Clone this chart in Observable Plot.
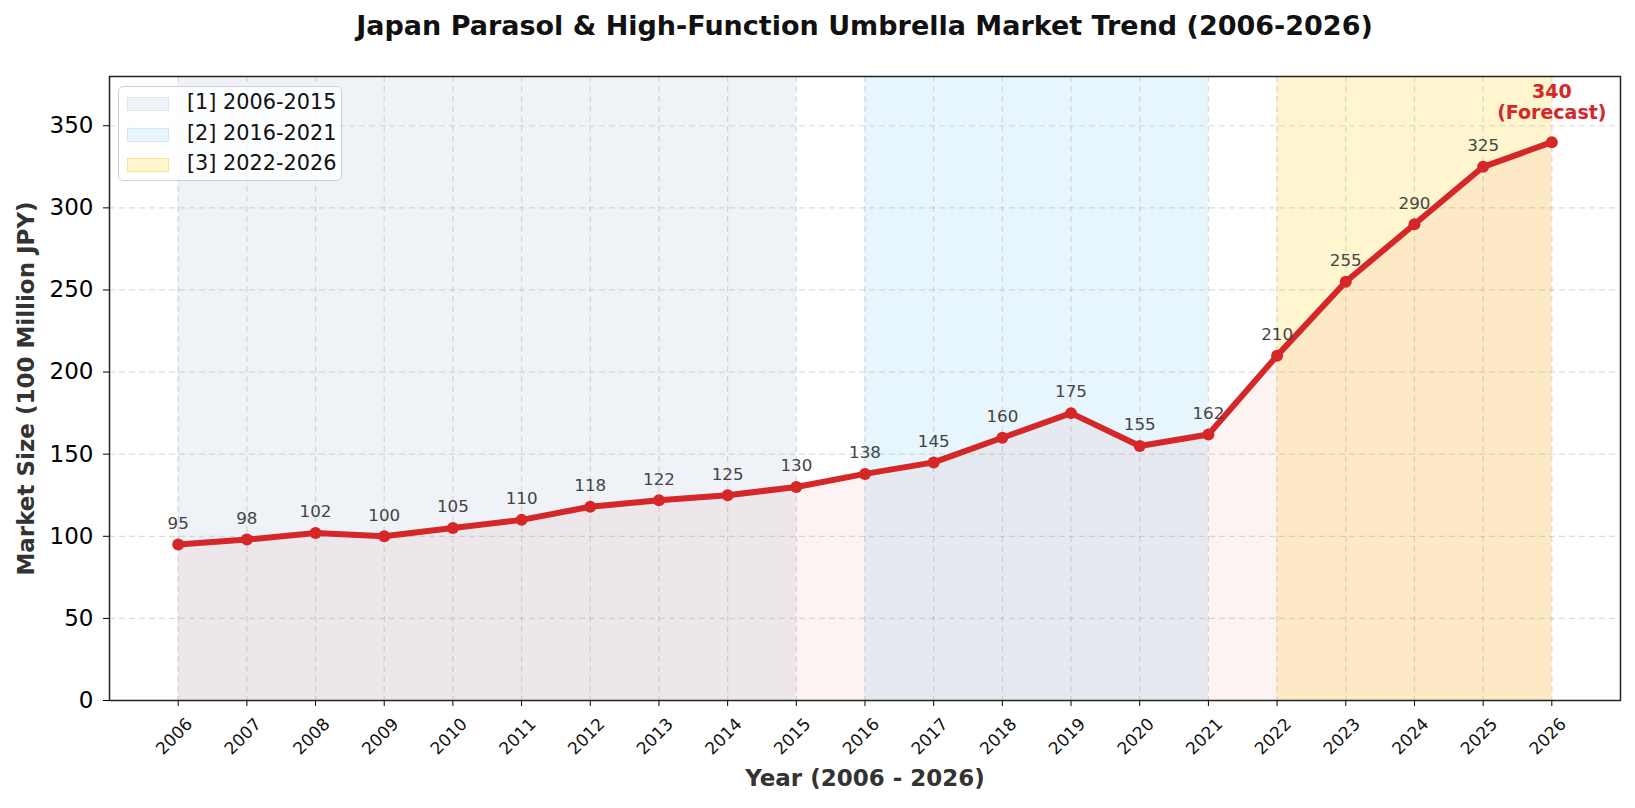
<!DOCTYPE html>
<html>
<head>
<meta charset="utf-8">
<script src="https://cdn.jsdelivr.net/npm/d3@7"></script>
<script src="https://cdn.jsdelivr.net/npm/@observablehq/plot@0.6"></script>
<style>
  body { margin: 0; background: #fff; font-family: "DejaVu Sans", sans-serif; }
  #wrap { position: relative; width: 1635px; height: 808px; overflow: hidden; }
  #title { position: absolute; top: 0; left: 109px; width: 1511px; text-align: center;
           font-weight: bold; font-size: 27px; line-height: 52px; color: #111; white-space: nowrap; }
  #chart { position: absolute; top: 52px; left: 0; }
  #legend { position: absolute; left: 118px; top: 86px; width: 224px; height: 95px;
            border: 1px solid #d0d0d0; border-radius: 5px; background: rgba(255,255,255,0.8);
            box-sizing: border-box; }
  .row { position: absolute; left: 0; height: 30px; width: 100%; }
  .sw { position: absolute; left: 8px; width: 42px; height: 14px; box-sizing: border-box; }
  .lt { position: absolute; left: 68px; font-size: 20.8px; color: #111; white-space: nowrap; }
</style>
</head>
<body>
<div id="wrap">
  <div id="title"></div>
  <div id="chart"></div>
  <div id="legend"></div>
</div>
<script>
// ---- data ----
const years = [2006, 2007, 2008, 2009, 2010, 2011, 2012, 2013, 2014, 2015, 2016,
               2017, 2018, 2019, 2020, 2021, 2022, 2023, 2024, 2025, 2026];
const marketSize = [95, 98, 102, 100, 105, 110, 118, 122, 125, 130, 138,
                    145, 160, 175, 155, 162, 210, 255, 290, 325, 340];
const periodLabels = ["[1] 2006-2015", "[2] 2016-2021", "[3] 2022-2026"];
const periodStart = [2006, 2016, 2022];
const periodEnd = [2015, 2021, 2026];
const periodColors = ["#eff2f7", "#e7f5fc", "#fff5cf"];
const periodBorders = ["#dde4ee", "#cfe9f6", "#fbe39a"];
const yTicks = [0, 50, 100, 150, 200, 250, 300, 350];
const titleText = "Japan Parasol & High-Function Umbrella Market Trend (2006-2026)";
const xLabel = "Year (2006 - 2026)";
const yLabel = "Market Size (100 Million JPY)";
const forecastNote = "(Forecast)";

const data = years.map((year, i) => ({year, value: marketSize[i]}));
const periods = periodLabels.map((label, i) => ({label, start: periodStart[i], end: periodEnd[i], color: periodColors[i]}));
const red = "#d62728";

document.getElementById("title").textContent = titleText;

const chart = Plot.plot({
  width: 1635,
  height: 756,
  marginTop: 24,
  marginBottom: 108,
  marginLeft: 109,
  marginRight: 15,
  x: {domain: [2005, 2027]},
  y: {domain: [0, 380]},
  style: {fontFamily: "DejaVu Sans", background: "transparent", color: "#000", overflow: "visible"},
  marks: [
    Plot.rect(periods, {x1: "start", x2: "end", fill: "color"}),
    Plot.gridY(yTicks, {stroke: "#b0b0b0", strokeOpacity: 0.45, strokeDasharray: "6,4", strokeWidth: 1.2}),
    Plot.gridX(years, {stroke: "#b0b0b0", strokeOpacity: 0.45, strokeDasharray: "6,4", strokeWidth: 1.2}),
    Plot.areaY(data, {x: "year", y: "value", fill: red, fillOpacity: 0.055}),
    Plot.line(data, {x: "year", y: "value", stroke: red, strokeWidth: 6}),
    Plot.dot(data, {x: "year", y: "value", r: 6, fill: red}),
    Plot.text(data.slice(0, -1), {x: "year", y: "value", text: d => String(d.value), dy: -21, fontSize: 16.7, fill: "#444"}),
    Plot.text(data.slice(-1), {x: "year", y: "value", text: d => `${d.value}\n${forecastNote}`, dy: -40,
      fontSize: 19, fontWeight: "bold", fill: red, lineHeight: 1.1}),
    Plot.axisY({ticks: yTicks, tickSize: 6, tickPadding: 10, fontSize: 23, label: null}),
    Plot.axisX({ticks: years, tickSize: 6, tickFormat: () => "", label: null}),
    Plot.text(years, {x: d => d, frameAnchor: "bottom", dy: 40, rotate: -45, text: d => String(d), fontSize: 17, fill: "#111"}),
    Plot.text([xLabel], {frameAnchor: "bottom", dy: 85, text: d => d, fontWeight: "bold", fontSize: 23, fill: "#333"}),
    Plot.text([yLabel], {frameAnchor: "left", dx: -83, rotate: -90, textAnchor: "middle", text: d => d, fontWeight: "bold", fontSize: 23, fill: "#333"}),
    Plot.frame({stroke: "#222", strokeWidth: 1.5})
  ]
});
document.getElementById("chart").appendChild(chart);

// legend
const legend = document.getElementById("legend");
periods.forEach((p, i) => {
  const row = document.createElement("div");
  row.className = "row";
  row.style.top = (2 + i * 30.5) + "px";
  const sw = document.createElement("div");
  sw.className = "sw";
  sw.style.top = "8px";
  sw.style.background = p.color;
  sw.style.border = "1px solid " + periodBorders[i];
  const lt = document.createElement("div");
  lt.className = "lt";
  lt.style.top = "1px";
  lt.textContent = p.label;
  row.appendChild(sw);
  row.appendChild(lt);
  legend.appendChild(row);
});
</script>
</body>
</html>
